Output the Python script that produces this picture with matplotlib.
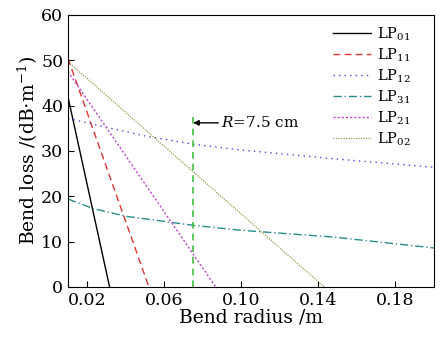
import matplotlib
matplotlib.use('Agg')
import matplotlib.pyplot as plt
import numpy as np

plt.rcParams['font.family'] = ['DejaVu Serif']
plt.rcParams['mathtext.fontset'] = 'dejavuserif'

# bend radius (m) / bend loss (dB/m)
r01 = [0.010, 0.0316]
l01 = [41.9, 0.0]
r11 = [0.010, 0.052]
l11 = [50.4, 0.0]
r12 = [0.010, 0.020, 0.050, 0.075, 0.100, 0.150, 0.200]
l12 = [37.2, 36.2, 33.3, 31.5, 30.2, 28.2, 26.4]
r31 = [0.010, 0.023, 0.040, 0.075, 0.100, 0.148, 0.200]
l31 = [19.4, 17.3, 15.6, 13.6, 12.5, 11.0, 8.6]
r21 = [0.010, 0.0867]
l21 = [47.5, 0.0]
r02 = [0.010, 0.143]
l02 = [49.7, 0.0]

R_mark = 0.075
R_top = 38.3

fig = plt.figure(figsize=(4.43, 3.40), dpi=100)
ax = fig.add_axes([0.1535, 0.156, 0.826, 0.80])

ax.plot(r01, l01, color='black', lw=1.0, ls='-', label='LP$_{01}$')
ax.plot(r11, l11, color='#e03535', lw=1.0, ls=(0, (5, 3)), label='LP$_{11}$')
ax.plot(r12, l12, color='#4a4ad8', lw=1.0, ls=(0, (1, 3)), label='LP$_{12}$')
ax.plot(r31, l31, color='#2a8c8c', lw=1.0, ls=(0, (6, 2, 1, 2)), label='LP$_{31}$')
ax.plot(r21, l21, color='#c040c8', lw=1.0, ls=(0, (1.5, 1.5)), label='LP$_{21}$')
ax.plot(r02, l02, color='#9a9a50', lw=0.9, ls=(0, (1, 1)), label='LP$_{02}$')

ax.plot([R_mark, R_mark], [0, R_top], color='#40c040', lw=1.2, ls=(0, (4, 3)))
ax.annotate('$R$=7.5 cm', xy=(R_mark, 36.2), xytext=(R_mark + 0.0145, 36.2),
            fontsize=11, va='center', ha='left',
            arrowprops=dict(arrowstyle='-|>', color='black', lw=1.0,
                            shrinkA=0, shrinkB=0, mutation_scale=8))

ax.set_xlim(0.01, 0.2)
ax.set_ylim(0, 60)
ax.set_xticks([0.02, 0.06, 0.10, 0.14, 0.18])
ax.set_xticklabels(['0.02', '0.06', '0.10', '0.14', '0.18'])
ax.set_yticks([0, 10, 20, 30, 40, 50, 60])
ax.tick_params(direction='in', labelsize=12.5, length=4)
ax.set_xlabel('Bend radius /m', fontsize=13.5, labelpad=0)
ax.set_ylabel('Bend loss /(dB$\\cdot$m$^{-1}$)', fontsize=13.5, labelpad=1)

ax.legend(loc='upper right', bbox_to_anchor=(0.965, 1.0), frameon=False,
          fontsize=10.5, handlelength=2.6, labelspacing=0.25,
          borderaxespad=0.3, handletextpad=0.4)

fig.savefig('out.png', dpi=100)
